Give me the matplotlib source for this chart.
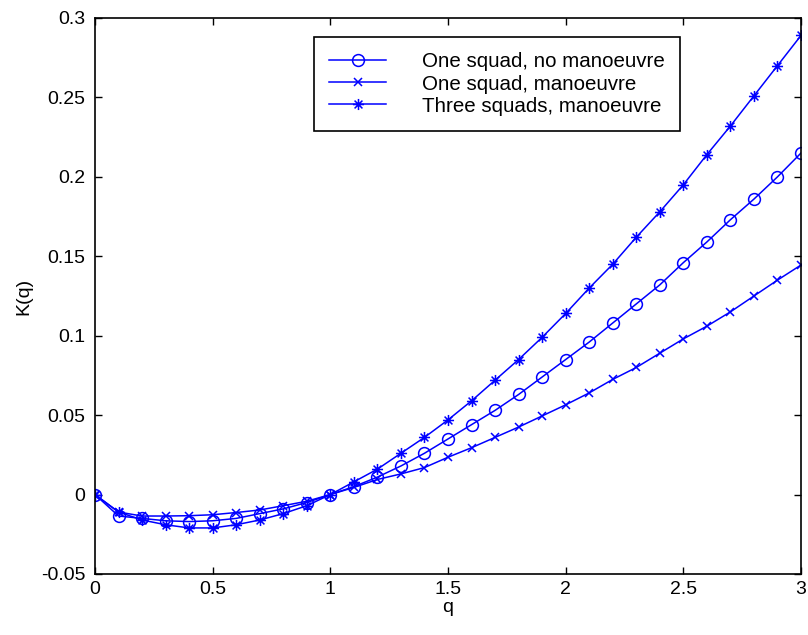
import numpy as np
import matplotlib
matplotlib.use("Agg")
import matplotlib.pyplot as plt
from matplotlib.path import Path

plt.rcParams['font.family'] = ['Liberation Sans', 'DejaVu Sans']

# data
q = [0.0, 0.1, 0.2, 0.3, 0.4, 0.5, 0.6, 0.7, 0.8, 0.9, 1.0,
     1.1, 1.2, 1.3, 1.4, 1.5, 1.6, 1.7, 1.8, 1.9, 2.0,
     2.1, 2.2, 2.3, 2.4, 2.5, 2.6, 2.7, 2.8, 2.9, 3.0]

one_no_man = [0.0, -0.0135, -0.015, -0.0165, -0.017, -0.0165, -0.015, -0.012, -0.009, -0.005, 0.0,
              0.005, 0.011, 0.018, 0.026, 0.035, 0.044, 0.053, 0.063, 0.074, 0.085,
              0.096, 0.108, 0.120, 0.132, 0.146, 0.159, 0.173, 0.186, 0.200, 0.215]

one_man = [0.0, -0.011, -0.0135, -0.0135, -0.0133, -0.0127, -0.0113, -0.0097, -0.007, -0.0042, 0.0,
           0.0045, 0.0095, 0.013, 0.017, 0.0235, 0.0295, 0.036, 0.0425, 0.0495, 0.0565,
           0.064, 0.0725, 0.080, 0.089, 0.098, 0.106, 0.115, 0.125, 0.135, 0.1445]

three_man = [0.0, -0.011, -0.016, -0.019, -0.021, -0.021, -0.019, -0.016, -0.012, -0.007, 0.0,
             0.008, 0.016, 0.026, 0.036, 0.047, 0.059, 0.072, 0.085, 0.099, 0.114,
             0.130, 0.145, 0.162, 0.178, 0.195, 0.214, 0.232, 0.251, 0.270, 0.289]

labels = ["One squad, no manoeuvre", "One squad, manoeuvre", "Three squads, manoeuvre"]

xticks = [0, 0.5, 1, 1.5, 2, 2.5, 3]
yticks = [-0.05, 0, 0.05, 0.1, 0.15, 0.2, 0.25, 0.3]

# matlab-like asterisk (+ and x together)
d = 0.7071
star = Path([(-1, 0), (1, 0), (0, -1), (0, 1), (-d, -d), (d, d), (-d, d), (d, -d)],
            [Path.MOVETO, Path.LINETO] * 4)

blue = (0, 0, 1)
fs = 14

fig = plt.figure(figsize=(8.08, 6.35), dpi=100)
ax = fig.add_axes([95 / 808, 1 - 574 / 635, (801 - 95) / 808, (574 - 18) / 635])

ax.plot(q, one_no_man, color=blue, lw=1.1, marker='o', ms=8.5, mfc='none', mec=blue, mew=1.1, label=labels[0])
ax.plot(q, one_man, color=blue, lw=1.1, marker='x', ms=5.5, mec=blue, mew=1.1, label=labels[1])
ax.plot(q, three_man, color=blue, lw=1.1, marker=star, ms=8, mfc='none', mec=blue, mew=1.1, label=labels[2])

ax.set_xlim(0, 3)
ax.set_ylim(-0.05, 0.3)
ax.set_xticks(xticks)
ax.set_xticklabels(["0", "0.5", "1", "1.5", "2", "2.5", "3"])
ax.set_yticks(yticks)
ax.set_yticklabels(["-0.05", "0", "0.05", "0.1", "0.15", "0.2", "0.25", "0.3"])
ax.tick_params(direction='in', length=5, width=1, top=True, right=True, labelsize=fs)
ax.tick_params(axis='x', pad=5)
ax.tick_params(axis='y', pad=7)
for s in ax.spines.values():
    s.set_linewidth(1.2)

ax.set_xlabel("q", fontsize=fs, labelpad=1)
ax.set_ylabel("K(q)", fontsize=fs, labelpad=6)

leg = ax.legend(loc='upper left', bbox_to_anchor=(314 / 808, 1 - 37 / 635),
                bbox_transform=fig.transFigure, borderaxespad=0,
                fontsize=14.8, handlelength=2.75, handletextpad=1.75, borderpad=0.75,
                labelspacing=0.15, fancybox=False, framealpha=1, edgecolor='black')
leg.get_frame().set_linewidth(1.2)

fig.savefig("out.png", dpi=100)
